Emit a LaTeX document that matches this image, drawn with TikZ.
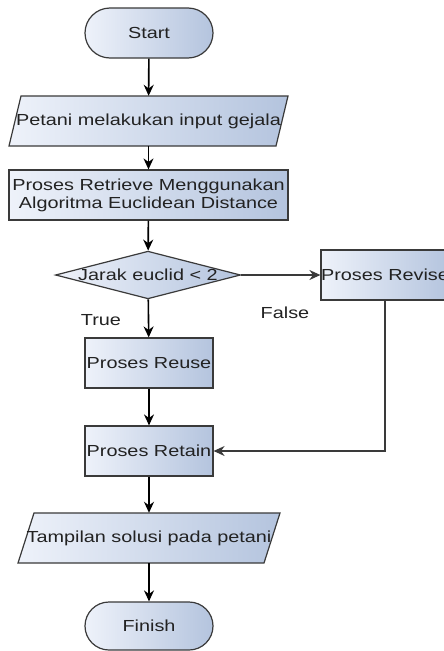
\documentclass[tikz,border=0pt]{standalone}
\usepackage{fontspec}
\setmainfont{Liberation Sans}[FakeStretch=1.24]
\usetikzlibrary{shapes.geometric,shapes.misc,arrows.meta}
\definecolor{linec}{HTML}{3A3A3A}
\definecolor{fillL}{HTML}{EEF2FA}
\definecolor{fillR}{HTML}{B4C4DE}
\definecolor{textc}{HTML}{222222}
\begin{document}
\begin{tikzpicture}[x=1pt,y=1pt,
  font=\fontsize{16}{19}\selectfont,
  shapestyle/.style={draw=linec, line width=1.2pt, left color=fillL, right color=fillR},
  box/.style={shapestyle, inner sep=0pt, text=textc},
  term/.style={box, rounded rectangle, minimum width=128pt, minimum height=50pt},
  proc/.style={box, rectangle, minimum height=50pt},
  io/.style={rectangle, inner sep=0pt, text=textc, minimum height=50pt},
  decision/.style={box, diamond, aspect=3.88},
  flow/.style={draw=black, line width=1.6pt, -{Stealth[length=11pt,width=10pt]}},
  flowthin/.style={draw=linec, line width=1.2pt, -{Stealth[length=11pt,width=10pt]}},
  lbl/.style={text=textc, inner sep=0pt}]
\useasboundingbox (0,0) rectangle (444,-651);
\fill[white] (0,0) rectangle (444,-651);

% parallelogram outlines (input / output)
\path[shapestyle] (21,-96) -- (288,-96) -- (276,-146) -- (9,-146) -- cycle;
\path[shapestyle] (34,-513) -- (280,-513) -- (264,-563) -- (18,-563) -- cycle;

\node[term] (start) at (149,-33) {Start};
\node[io, minimum width=279pt] (input) at (148.5,-121) {Petani melakukan input gejala};
\node[proc, minimum width=279pt, align=center] (retrieve) at (148.5,-195) {Proses Retrieve Menggunakan\\[-1pt]Algoritma Euclidean Distance};
\node[decision] (dec) at (148,-275) {Jarak euclid < 2};
\node[proc, minimum width=128pt] (revise) at (385,-275) {Proses Revise};
\node[proc, minimum width=128pt] (reuse) at (149,-363) {Proses Reuse};
\node[proc, minimum width=128pt] (retain) at (149,-451) {Proses Retain};
\node[io, minimum width=262pt] (out) at (149,-538) {Tampilan solusi pada petani};
\node[term, minimum height=48pt] (finish) at (149,-626) {Finish};

\node[lbl] (true) at (101,-320) {True};
\node[lbl] (false) at (285,-313) {False};

\draw[flow] (start) -- (input);
\draw[flow] (input) -- (retrieve);
\draw[flow] (retrieve) -- (dec);
\draw[flowthin] (dec.east) -- (revise.west);
\draw[flow] (dec) -- (reuse);
\draw[flow] (reuse) -- (retain);
\draw[flowthin] (revise.south) |- (retain.east);
\draw[flow] (retain) -- (out);
\draw[flow] (out) -- (finish);
\end{tikzpicture}
\end{document}
